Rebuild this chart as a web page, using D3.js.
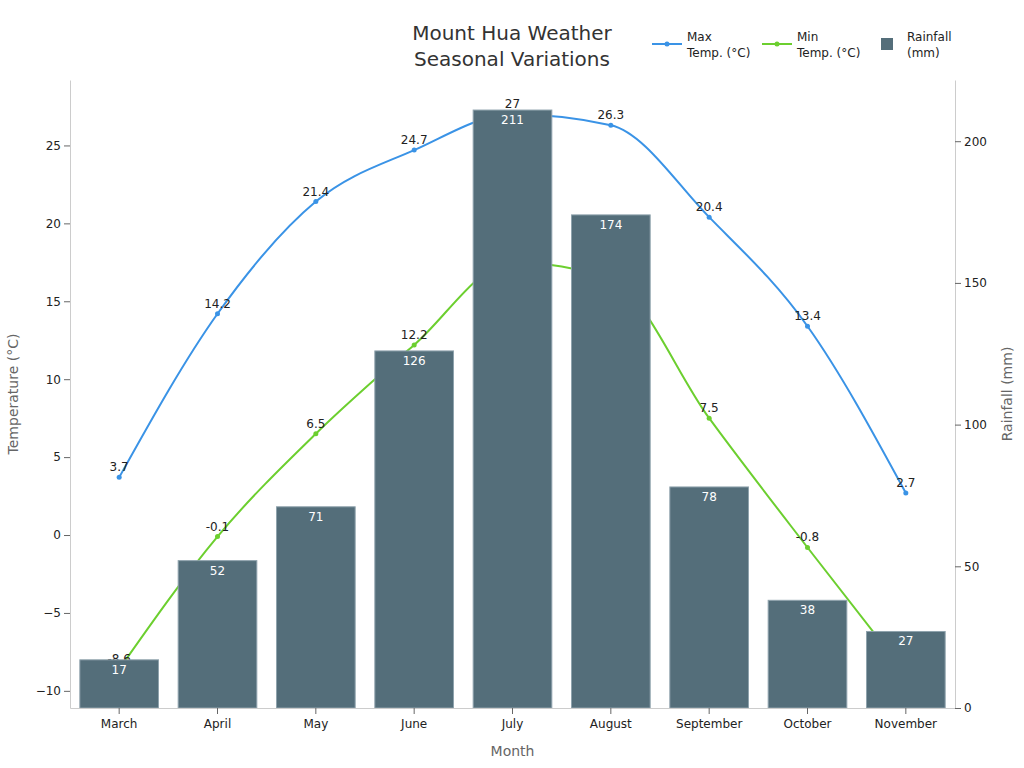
<!DOCTYPE html>
<html>
<head>
<meta charset="utf-8">
<script src="https://cdn.jsdelivr.net/npm/d3@7/dist/d3.min.js"></script>
<style>
  body { margin: 0; background: #fff; }
  svg, svg text { font-family: "DejaVu Sans", sans-serif; }
</style>
</head>
<body>
<div id="chart"></div>
<script>
const months = ["March", "April", "May", "June", "July", "August", "September", "October", "November"];
const maxTemp = [3.7, 14.2, 21.4, 24.7, 27, 26.3, 20.4, 13.4, 2.7];
const minTemp = [-8.6, -0.1, 6.5, 12.2, 17.5, 16.4, 7.5, -0.8, -8.9];
const rainfall = [17, 52, 71, 126, 211, 174, 78, 38, 27];
const tempTicks = [-10, -5, 0, 5, 10, 15, 20, 25];
const rainTicks = [0, 50, 100, 150, 200];

const W = 1024, H = 768;
const margin = {top: 80, right: 69, bottom: 60, left: 70};
const width = W - margin.left - margin.right;
const height = H - margin.top - margin.bottom;

const BLUE = "#3a93e6", GREEN = "#6ccf2f", BAR = "#546e7a";

const svg = d3.select("#chart").append("svg")
    .attr("width", W).attr("height", H);
const g = svg.append("g")
    .attr("transform", "translate(" + margin.left + "," + margin.top + ")");

const data = months.map((m, i) => ({month: m, max: maxTemp[i], min: minTemp[i], rain: rainfall[i]}));

const x = d3.scaleBand().domain(months).range([0, width])
    .paddingInner(0.2).paddingOuter(0.1);
const yT = d3.scaleLinear().domain([-11.1, 29.2]).range([height, 0]);
const yR = d3.scaleLinear().domain([0, 221.6]).range([height, 0]);
const cx = d => x(d.month) + x.bandwidth() / 2;

// lines first, bars drawn over them
function drawSeries(key, color) {
    const line = d3.line().x(cx).y(d => yT(d[key])).curve(d3.curveMonotoneX);
    g.append("path").datum(data)
        .attr("fill", "none").attr("stroke", color).attr("stroke-width", 2)
        .attr("d", line);
    g.append("g").selectAll("circle").data(data).enter().append("circle")
        .attr("cx", cx).attr("cy", d => yT(d[key])).attr("r", 2.5)
        .attr("fill", color);
    g.append("g").selectAll("text").data(data).enter().append("text")
        .attr("x", cx).attr("y", d => yT(d[key]) - 6)
        .attr("text-anchor", "middle").attr("font-size", 12).attr("fill", "#222")
        .text(d => d[key]);
}
drawSeries("max", BLUE);
drawSeries("min", GREEN);

const bars = g.append("g").selectAll("g").data(data).enter().append("g");
bars.append("rect")
    .attr("x", d => x(d.month)).attr("y", d => yR(d.rain))
    .attr("width", x.bandwidth()).attr("height", d => height - yR(d.rain))
    .attr("fill", BAR).attr("stroke", "#8fa3ad").attr("stroke-width", 1);
bars.append("text")
    .attr("x", cx).attr("y", d => yR(d.rain) + 14)
    .attr("text-anchor", "middle").attr("font-size", 12).attr("fill", "#fff")
    .text(d => d.rain);

// axes
function styleAxis(sel) {
    sel.attr("font-family", "DejaVu Sans, sans-serif");
    sel.select(".domain").attr("stroke", "#ccc");
    sel.selectAll(".tick line").attr("stroke", "#666");
    sel.selectAll(".tick text").attr("fill", "#222").attr("font-size", 12);
}
g.append("g").attr("transform", "translate(0," + height + ")")
    .call(d3.axisBottom(x).tickSizeOuter(0).tickPadding(5)).call(styleAxis);
g.append("g").call(d3.axisLeft(yT).tickValues(tempTicks).tickSizeOuter(0)).call(styleAxis);
g.append("g").attr("transform", "translate(" + width + ",0)")
    .call(d3.axisRight(yR).tickValues(rainTicks).tickSizeOuter(0)).call(styleAxis);

// axis titles
svg.append("text").attr("x", margin.left + width / 2).attr("y", 756)
    .attr("text-anchor", "middle").attr("font-size", 14).attr("fill", "#666").text("Month");
svg.append("text").attr("transform", "translate(18," + (margin.top + height / 2) + ") rotate(-90)")
    .attr("text-anchor", "middle").attr("font-size", 14).attr("fill", "#666").text("Temperature (°C)");
svg.append("text").attr("transform", "translate(1012," + (margin.top + height / 2) + ") rotate(-90)")
    .attr("text-anchor", "middle").attr("font-size", 14).attr("fill", "#666").text("Rainfall (mm)");

// title
const title = svg.append("text").attr("x", 512).attr("text-anchor", "middle")
    .attr("font-size", 20).attr("fill", "#333");
title.append("tspan").attr("x", 512).attr("y", 40).text("Mount Hua Weather");
title.append("tspan").attr("x", 512).attr("y", 66).text("Seasonal Variations");

// legend
const legendItems = [
    {lines: ["Max", "Temp. (°C)"], color: BLUE, type: "line", x: 652},
    {lines: ["Min", "Temp. (°C)"], color: GREEN, type: "line", x: 762},
    {lines: ["Rainfall", "(mm)"], color: BAR, type: "rect", x: 872}
];
const leg = svg.append("g").selectAll("g").data(legendItems).enter().append("g")
    .attr("transform", d => "translate(" + d.x + ",44)");
leg.filter(d => d.type === "line").append("line")
    .attr("x1", 0).attr("x2", 30).attr("stroke", d => d.color).attr("stroke-width", 2);
leg.filter(d => d.type === "line").append("circle")
    .attr("cx", 15).attr("r", 2.5).attr("fill", d => d.color);
leg.filter(d => d.type === "rect").append("rect")
    .attr("x", 9).attr("y", -6).attr("width", 12).attr("height", 12).attr("fill", d => d.color);
leg.append("text").attr("x", 35).attr("font-size", 12).attr("fill", "#222")
    .each(function(d) {
        d3.select(this).selectAll("tspan").data(d.lines).enter().append("tspan")
            .attr("x", 35).attr("y", (t, i) => -3 + i * 16).text(t => t);
    });
</script>
</body>
</html>
